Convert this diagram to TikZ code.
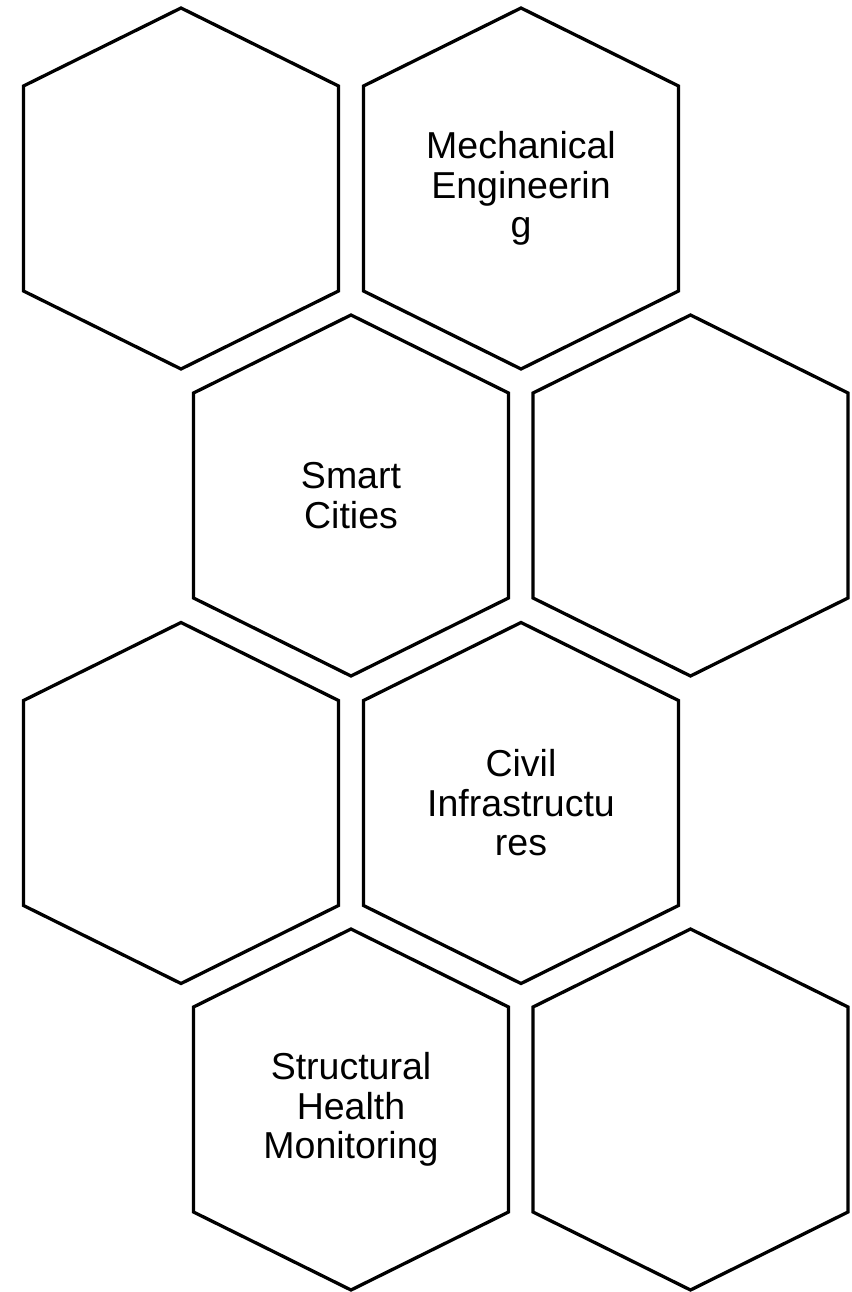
\documentclass[tikz,border=0pt]{standalone}
\usepackage{fontspec}
\setmainfont{Liberation Sans}
\begin{document}
\begin{tikzpicture}[x=1pt,y=-1pt,
  hexline/.style={draw=black,line width=3.3pt,line join=miter},
  hextext/.style={align=center,inner sep=0pt,font=\fontsize{37.5}{39.5}\selectfont},
  hexcell/.pic={
    \draw[hexline] (0,-180.5) -- (157.5,-102.5) -- (157.5,102.5) -- (0,180.5)
      -- (-157.5,102.5) -- (-157.5,-102.5) -- cycle;
  }]
\useasboundingbox (0,0) rectangle (851,1292);
% honeycomb cells, two per row, alternate rows shifted right
\foreach \cx/\cy/\nm in {181/188.5/h1, 521/188.5/h2,
                         351/495.5/h3, 690.5/495.5/h4,
                         181/803/h5, 521/803/h6,
                         351/1109.5/h7, 690.5/1109.5/h8}{
  \pic at (\cx,\cy) {hexcell};
  \coordinate (\nm) at (\cx,\cy);
}
% cell labels
\node[hextext] (t2) at (h2) {Mechanical\\Engineerin\\g};
\node[hextext] (t3) at (h3) {Smart\\Cities};
\node[hextext] (t6) at (h6) {Civil\\Infrastructu\\res};
\node[hextext] (t7) at (h7) {Structural\\Health\\Monitoring};
\end{tikzpicture}
\end{document}
